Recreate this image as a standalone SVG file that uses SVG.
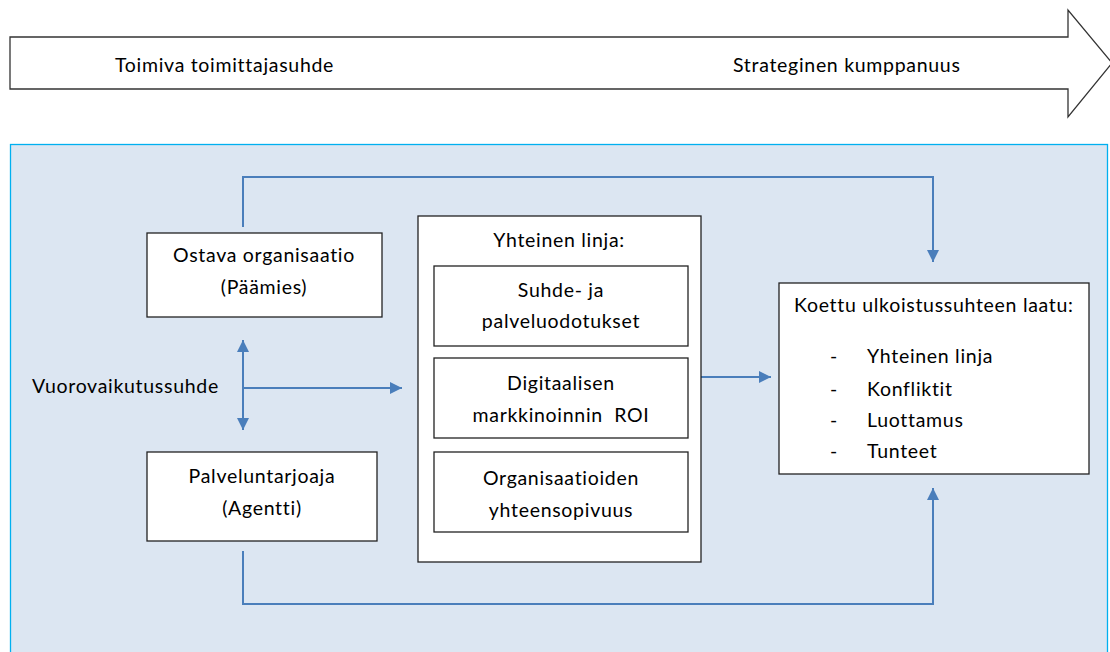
<svg xmlns="http://www.w3.org/2000/svg" width="1110" height="652" viewBox="0 0 1110 652">
<style>
text{font-family:Lato,"Liberation Sans",sans-serif;font-size:19.5px;letter-spacing:0.7px;font-variant-ligatures:none;fill:#000}
.c{text-anchor:middle}
.box{fill:#fff;stroke:#222;stroke-width:1.3}
.con{fill:none;stroke:#4a7ebb;stroke-width:2}
</style>
<defs>
<marker id="ah" viewBox="0 0 12 12" refX="12" refY="6" markerWidth="12" markerHeight="12" markerUnits="userSpaceOnUse" orient="auto-start-reverse">
<path d="M0,0 L12,6 L0,12 Z" fill="#4a7ebb"/>
</marker>
</defs>
<rect width="1110" height="652" fill="#fff"/>
<g id="timeline">
<path d="M10,37 H1068 V10 L1112,63 L1068,117 V89 H10 Z" fill="#fff" stroke="#333" stroke-width="1.3"/>
<text x="115" y="72">Toimiva toimittajasuhde</text>
<text x="733" y="72">Strateginen kumppanuus</text>
</g>
<rect id="panel" x="10.5" y="144.5" width="1097" height="520" fill="#dce6f2" stroke="#00b0f0" stroke-width="1.3"/>
<g id="connectors">
<path class="con" d="M243,227 V177 H933 V262" marker-end="url(#ah)"/>
<path class="con" d="M243,340 V430" marker-start="url(#ah)" marker-end="url(#ah)"/>
<path class="con" d="M243,388 H402" marker-end="url(#ah)"/>
<path class="con" d="M701,377 H771" marker-end="url(#ah)"/>
<path class="con" d="M243,551 V604 H933 V488" marker-end="url(#ah)"/>
</g>
<g id="vuorovaikutus">
<text x="32" y="393">Vuorovaikutussuhde</text>
</g>
<g id="ostava">
<rect class="box" x="147" y="233" width="235" height="84"/>
<text class="c" x="264" y="262">Ostava organisaatio</text>
<text class="c" x="264" y="294">(Päämies)</text>
</g>
<g id="palveluntarjoaja">
<rect class="box" x="147" y="452" width="230" height="89"/>
<text class="c" x="262" y="483">Palveluntarjoaja</text>
<text class="c" x="262" y="515">(Agentti)</text>
</g>
<g id="yhteinen">
<rect class="box" x="418" y="216" width="283" height="346"/>
<text class="c" x="559" y="247">Yhteinen linja:</text>
</g>
<g id="suhde">
<rect class="box" x="434" y="266" width="254" height="80"/>
<text class="c" x="561" y="297">Suhde- ja</text>
<text class="c" x="561" y="328">palveluodotukset</text>
</g>
<g id="digitaalisen">
<rect class="box" x="434" y="358" width="254" height="80"/>
<text class="c" x="561" y="390">Digitaalisen</text>
<text class="c" x="561" y="422">markkinoinnin&#160; ROI</text>
</g>
<g id="organisaatioiden">
<rect class="box" x="434" y="452" width="254" height="80"/>
<text class="c" x="561" y="485">Organisaatioiden</text>
<text class="c" x="561" y="517">yhteensopivuus</text>
</g>
<g id="koettu">
<rect class="box" x="779" y="283" width="310" height="191"/>
<text x="794" y="312">Koettu ulkoistussuhteen laatu:</text>
<text x="830" y="363">-</text><text x="867" y="363">Yhteinen linja</text>
<text x="830" y="396">-</text><text x="867" y="396">Konfliktit</text>
<text x="830" y="427">-</text><text x="867" y="427">Luottamus</text>
<text x="830" y="458">-</text><text x="867" y="458">Tunteet</text>
</g>
</svg>
